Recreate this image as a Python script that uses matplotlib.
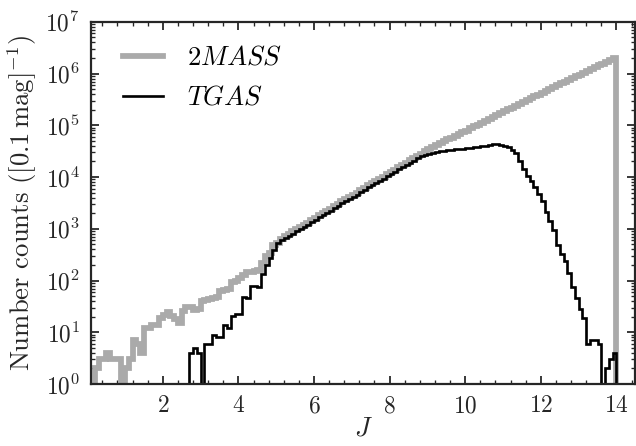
import numpy as np
import matplotlib
matplotlib.use('Agg')
import matplotlib.pyplot as plt
from matplotlib.lines import Line2D
from matplotlib.ticker import AutoMinorLocator, LogLocator, NullFormatter

plt.rcParams['font.family'] = 'serif'
plt.rcParams['font.serif'] = ['cmr10', 'DejaVu Serif']
plt.rcParams['mathtext.fontset'] = 'cm'
plt.rcParams['axes.formatter.use_mathtext'] = True

# histogram bins: 0.1 mag wide, J = 0.0 ... 14.0
bin_edges = np.round(np.arange(0.0, 14.05, 0.1), 1)

# 2MASS counts per bin
counts_2mass = [
    0, 0, 2, 3, 3, 4, 3, 3, 3, 0,
    2, 3, 7, 6, 4, 12, 12, 14, 14, 19,
    22, 25, 21, 18, 15, 26, 31, 31, 27, 28,
    40, 42, 44, 46, 49, 64, 66, 70, 92, 100,
    112, 128, 145, 148, 150, 158, 215, 300, 345, 480,
    540, 640, 725, 810, 890, 980, 1070, 1200, 1320, 1480,
    1620, 1820, 2000, 2240, 2450, 2750, 3020, 3390, 3720, 4170,
    4570, 5010, 5620, 6170, 6920, 7590, 8320, 9330, 10230, 11480,
    12590, 13800, 15500, 17000, 19050, 20900, 22900, 25700, 28200, 31600,
    34700, 38000, 41700, 44700, 49000, 53700, 57500, 63100, 67600, 74100,
    79400, 87100, 95500, 102300, 112200, 123000, 131800, 144500, 158500, 169800,
    186200, 204200, 218800, 239900, 257000, 281800, 309000, 331100, 363100, 389000,
    426600, 467700, 501200, 549500, 588800, 645700, 691800, 758600, 812800, 891300,
    955000, 1047000, 1122000, 1230000, 1318000, 1445000, 1549000, 1698000, 1820000, 1995000,
]

# TGAS counts per bin
counts_tgas = [
    0, 0, 0, 0, 0, 0, 0, 0, 0, 0,
    0, 0, 0, 0, 0, 0, 0, 0, 0, 0,
    0, 0, 0, 0, 0, 0, 0, 4, 5, 4,
    0, 6, 6, 9, 8, 8, 14, 12, 21, 23,
    23, 49, 45, 80, 78, 75, 135, 200, 270, 390,
    525, 600, 660, 740, 810, 890, 975, 1095, 1205, 1350,
    1480, 1660, 1825, 2045, 2235, 2510, 2755, 3090, 3390, 3800,
    4170, 4570, 5130, 5630, 6310, 6920, 7590, 8510, 9330, 10470,
    11480, 12590, 14140, 15500, 17380, 19050, 20890, 23440, 25120, 26900,
    28200, 29500, 30900, 31600, 32400, 33100, 33900, 34700, 35500, 35500,
    36300, 37200, 38000, 38900, 39800, 40700, 41700, 42700, 42700, 41700,
    40700, 38000, 33900, 28800, 20000, 14100, 10500, 8300, 6450, 4790,
    3470, 2090, 1410, 930, 480, 330, 240, 141, 74, 46,
    28, 19, 6, 7, 7, 6, 0, 2, 3, 4,
]

labels = [r'$2MASS$', r'$TGAS$']

fig = plt.figure(figsize=(3.975, 2.7875), dpi=160)
ax = fig.add_axes([0.143, 0.139, 0.856, 0.812])

ax.hist(bin_edges[:-1], bins=bin_edges, weights=counts_2mass, histtype='step',
        log=True, color='#aaaaaa', lw=2.6)
ax.hist(bin_edges[:-1], bins=bin_edges, weights=counts_tgas, histtype='step',
        log=True, color='black', lw=1.2)

ax.set_xlim(0.1, 14.5)
ax.set_ylim(1, 1e7)
ax.set_xticks([2, 4, 6, 8, 10, 12, 14])
ax.xaxis.set_minor_locator(AutoMinorLocator(5))
ax.yaxis.set_major_locator(LogLocator(base=10, numticks=10))
ax.yaxis.set_minor_locator(LogLocator(base=10, subs=np.arange(2, 10), numticks=20))
ax.yaxis.set_minor_formatter(NullFormatter())

for s in ax.spines.values():
    s.set_color('#262626')
    s.set_linewidth(1.0)
ax.tick_params(which='both', direction='in', top=True, right=True,
               color='#262626', labelsize=10.5, labelcolor='#262626')
ax.tick_params(which='major', length=3.5, width=0.8, pad=5)
ax.tick_params(which='minor', length=2, width=0.6)

ax.set_xlabel(r'$J$', fontsize=12, color='#262626', labelpad=0)
ax.set_ylabel(r'Number counts ([0.1$\,$mag]$^{-1}$)', fontsize=12,
              color='#262626', labelpad=3)

handles = [Line2D([], [], color='#aaaaaa', lw=2.6),
           Line2D([], [], color='black', lw=1.2)]
ax.legend(handles, labels, loc='upper left', frameon=False, fontsize=12,
          handlelength=1.5, handletextpad=0.9, labelspacing=0.6,
          bbox_to_anchor=(0.015, 1.0))

fig.savefig('out.png', dpi=160)
